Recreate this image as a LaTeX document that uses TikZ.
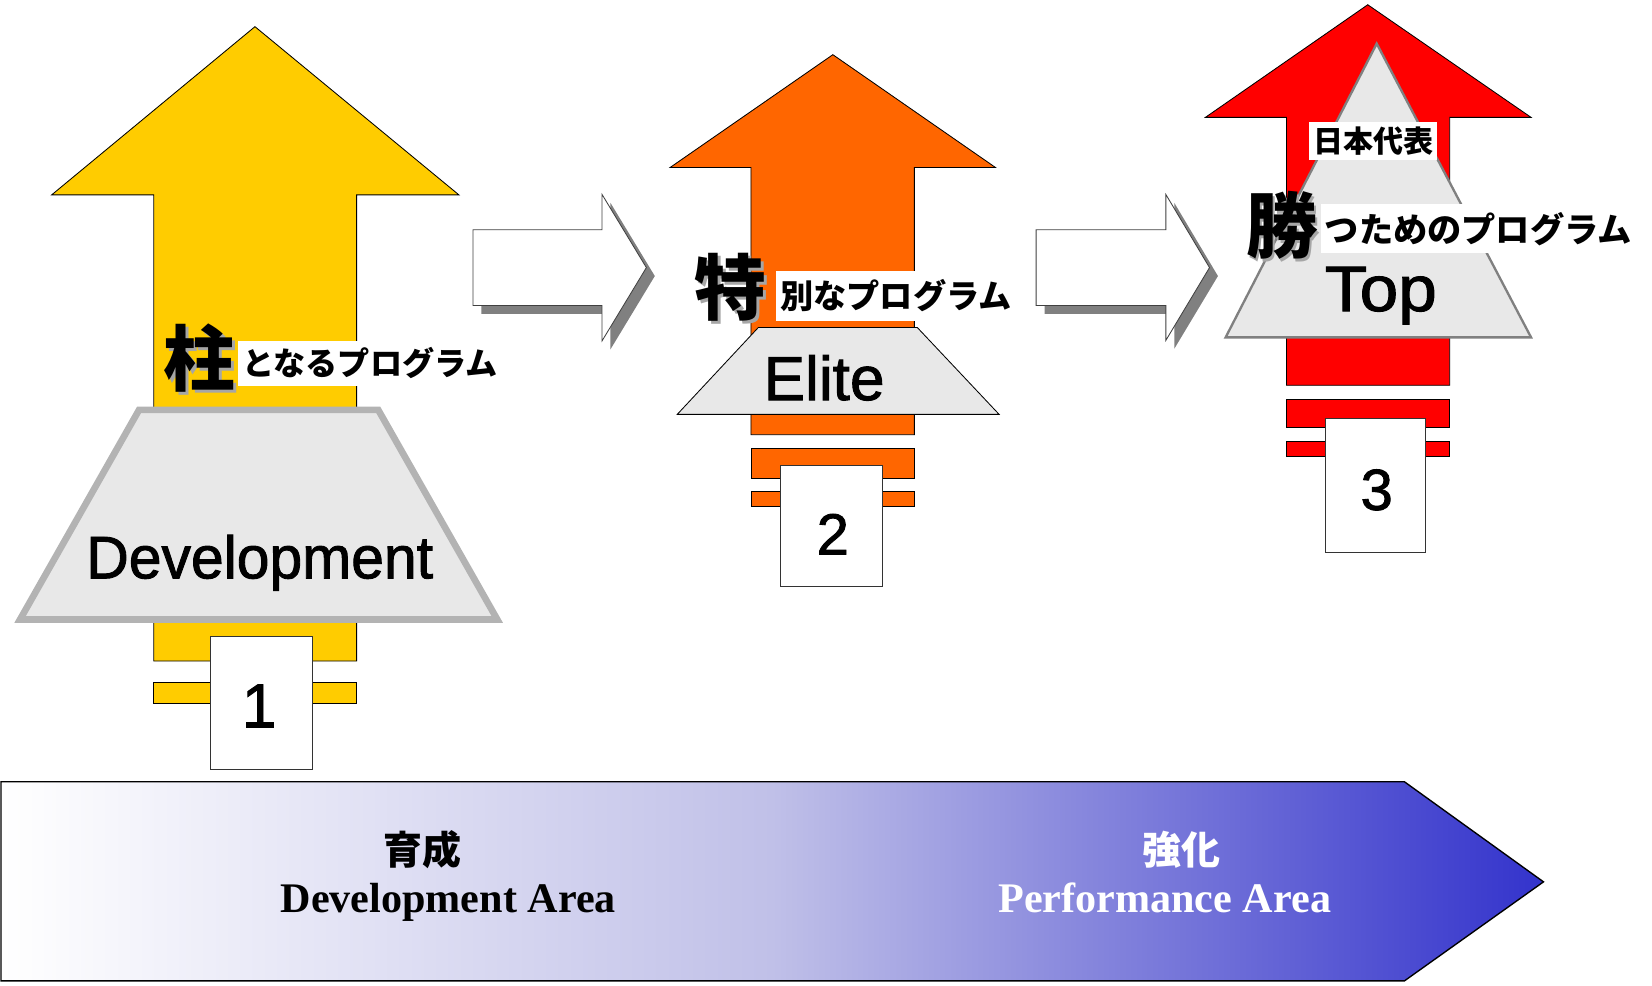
\documentclass[tikz,border=0pt]{standalone}
\usepackage{fontspec}
\setmainfont{Liberation Sans}
\newfontfamily\gothic[FakeBold=1.5]{Liberation Sans}
\newfontfamily\jp{Noto Sans CJK JP}
\newfontfamily\tms{Liberation Serif}
\definecolor{yel}{HTML}{FFCC00}
\definecolor{org}{HTML}{FF6600}
\definecolor{rd}{HTML}{FF0000}
\definecolor{trapfill}{HTML}{E8E8E8}
\definecolor{trapedge}{HTML}{B3B3B3}
\definecolor{bluedark}{RGB}{51,51,204}
\definecolor{bluemid}{RGB}{192,192,232}
\tikzset{
  uparrow/.style={draw=black, line width=0.8pt},
  barrect/.style={draw=black, line width=0.8pt},
  numbox/.style={draw=black!80, fill=white, line width=0.8pt, inner sep=0pt},
  numtxt/.style={font=\gothic\fontsize{56}{56}\selectfont, inner sep=0pt},
  bigtxt/.style={font=\gothic\fontsize{56}{56}\selectfont, inner sep=0pt, anchor=base},
  kanji/.style={font=\jp\bfseries\fontsize{68}{68}\selectfont, inner sep=0pt},
  kanjishadow/.style={kanji, text=black!35},
  lab/.style={fill=white, inner xsep=4pt, inner ysep=0pt, anchor=west, font=\jp\bfseries\fontsize{31.5}{31.5}\selectfont},
  rightarrow/.style={draw=black!75, fill=white, line width=0.8pt},
  rightshadow/.style={fill=black!50, draw=none},
  bantxt/.style={inner sep=0pt, font=\tms\bfseries\fontsize{40}{40}\selectfont, anchor=base},
  banjp/.style={inner sep=0pt, font=\jp\bfseries\fontsize{37}{37}\selectfont}
}
\begin{document}
\begin{tikzpicture}[x=1pt,y=-1pt]
\useasboundingbox (0,0) rectangle (1568,935);

% ---------- bottom banner ----------
\shade[left color=white, right color=bluedark, middle color=bluemid]
  (1,742) -- (1333,742) -- (1465,837) -- (1333,931) -- (1,931) -- cycle;
\draw[line width=1.3pt] (1,742) -- (1333,742) -- (1465,837) -- (1333,931) -- (1,931) -- cycle;
\node[banjp] (ikusei) at (401,806.5) {育成};
\node[bantxt] (devarea) at (425.5,866.2) {Development Area};
\node[banjp, text=white] (kyouka) at (1121.5,806.5) {強化};
\node[bantxt, text=white] (perfarea) at (1105.5,866.2) {Performance Area};

% ---------- white right arrows ----------
\fill[rightshadow] (457,226) -- (579.4,226) -- (579.4,192.5) -- (621.5,262) -- (579.4,331.6) -- (579.4,298) -- (457,298) -- cycle;
\draw[rightarrow] (449,218) -- (571.4,218) -- (571.4,184.5) -- (613.5,254) -- (571.4,323.6) -- (571.4,290) -- (449,290) -- cycle;
\fill[rightshadow] (991.4,226) -- (1114.6,226) -- (1114.6,192.6) -- (1156,262) -- (1114.6,331) -- (1114.6,298) -- (991.4,298) -- cycle;
\draw[rightarrow] (983.4,218) -- (1106.6,218) -- (1106.6,184.6) -- (1148,254) -- (1106.6,323) -- (1106.6,290) -- (983.4,290) -- cycle;

% ---------- column 1 : yellow ----------
\draw[uparrow, fill=yel] (242,25.3) -- (435.6,185) -- (338.5,185) -- (338.5,627.4) -- (146,627.4) -- (146,185) -- (49,185) -- cycle;
\draw[barrect, fill=yel] (146,647.6) rectangle (338.5,667.5);
\node[kanjishadow] (hashiras) at (191.8,342.5) {柱};
\node[kanji] (hashira) at (189.3,340) {柱};
\node[lab, minimum height=42.3pt, font=\jp\bfseries\fontsize{30.5}{30.5}\selectfont] (prog1) at (226,344.8) {となるプログラム};
\draw[draw=trapedge, fill=trapfill, line width=6.3pt, line join=miter] (132,389) -- (359,389) -- (472,588) -- (19,588) -- cycle;
\node[bigtxt, font=\gothic\fontsize{57}{57}\selectfont, xscale=0.98] (dev) at (246.5,548.9) {Development};
\node[numbox, minimum width=97pt, minimum height=126.6pt] (box1) at (247.85,666.9) {};
\node[numtxt, font=\gothic\fontsize{59}{59}\selectfont] (one) at (246,670) {1};

% ---------- column 2 : orange ----------
\draw[uparrow, fill=org] (790.5,51.9) -- (944.9,159) -- (867.9,159) -- (867.9,412.6) -- (712.8,412.6) -- (712.8,159) -- (636,159) -- cycle;
\draw[barrect, fill=org] (712.8,426) rectangle (867.9,453.7);
\draw[barrect, fill=org] (712.8,466.1) rectangle (867.9,480.6);
\node[kanjishadow] (tokus) at (696,275.2) {特};
\node[kanji] (toku) at (693.5,272.7) {特};
\node[lab, minimum height=47.5pt] (prog2) at (736.5,281) {別なプログラム};
\draw[draw=black, fill=trapfill, line width=0.8pt] (719.8,310.8) -- (870.6,310.8) -- (948.3,393.3) -- (642.8,393.3) -- cycle;
\node[bigtxt, font=\gothic\fontsize{59}{59}\selectfont] (elite) at (782.2,379.7) {Elite};
\node[numbox, minimum width=97.3pt, minimum height=115pt] (box2) at (789.15,499.1) {};
\node[numtxt, font=\gothic\fontsize{55}{55}\selectfont] (two) at (790.5,507) {2};

% ---------- column 3 : red ----------
\draw[uparrow, fill=rd] (1298.2,4.5) -- (1453.2,111.4) -- (1376,111.4) -- (1376,365.7) -- (1221,365.7) -- (1221,111.4) -- (1144.1,111.4) -- cycle;
\draw[barrect, fill=rd] (1221,379.5) rectangle (1376,405.4);
\draw[barrect, fill=rd] (1221,418.5) rectangle (1376,433);
\draw[draw=black!50, fill=trapfill, line width=2.2pt, line join=miter] (1306.7,41.4) -- (1453.2,320.2) -- (1163.3,320.2) -- cycle;
\node[lab, anchor=center, minimum height=35.5pt, font=\jp\bfseries\fontsize{28.5}{28.5}\selectfont] (japan) at (1303.3,134) {日本代表};
\node[kanjishadow] (katsus) at (1219.3,216.5) {勝};
\node[kanji] (katsu) at (1216.8,214) {勝};
\node[lab, minimum height=46.5pt, font=\jp\bfseries\fontsize{32.5}{32.5}\selectfont] (prog3) at (1253.2,217.2) {つためのプログラム};
\node[bigtxt, font=\gothic\fontsize{61}{61}\selectfont, xscale=1.08] (top) at (1310.6,295.2) {Top};
\node[numbox, minimum width=94.9pt, minimum height=126.9pt] (box3) at (1305.15,461) {};
\node[numtxt, font=\gothic\fontsize{55}{55}\selectfont] (three) at (1306.7,465) {3};
\end{tikzpicture}
\end{document}
